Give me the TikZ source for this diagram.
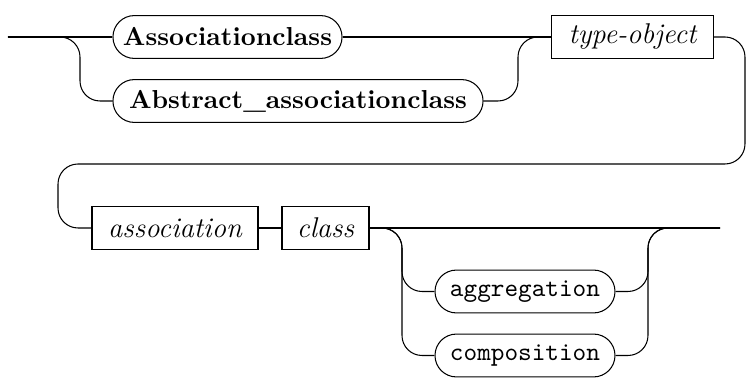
\documentclass[tikz,border=0pt]{standalone}
\tikzset{>=stealth}
\usetikzlibrary{shapes}
\tikzset{
  term/.style={draw,rectangle,rounded corners=8.25pt,minimum height=16.5pt,inner xsep=0pt},
  nonterm/.style={draw,rectangle,minimum height=16.5pt,inner xsep=0pt,font=\fontsize{11}{13}\selectfont\itshape},
  rail/.style={rounded corners=7.7pt}
}

\begin{document}
\begin{tikzpicture}[x=0.385pt,y=-0.385pt]
      \useasboundingbox (0,0) rectangle (747,383);
      \node[term,minimum width=88.2pt,font=\bfseries] (ascl) at (227.5,37) {Associationclass};
      \node[term,minimum width=142.5pt,font=\bfseries] (abscl) at (298,101) {Abstract\_associationclass};
      \node[nonterm,minimum width=62pt] (typeobj) at (632.5,37) {type-object};
      \node[nonterm,minimum width=63.9pt] (assoc) at (175,228) {association};
      \node[nonterm,minimum width=33.5pt] (cls) at (325.5,228) {class};
      \node[term,minimum width=69.3pt,font=\ttfamily] (aggr) at (525,291.5) {aggregation};
      \node[term,minimum width=69.3pt,font=\ttfamily] (comp) at (525,355.5) {composition};
      \coordinate (start) at (8,37);
      \coordinate (s1) at (80,37);
      \coordinate (s2) at (518,37);
      \coordinate (w1) at (745,164);
      \coordinate (w2) at (58,164);
      \coordinate (o1) at (402,228);
      \coordinate (o2) at (648,228);
      \coordinate (end) at (720,228);
      \draw (start) -- (ascl.west);
      \draw[rail] (start) -- (s1) |- (abscl.west);
      \draw (ascl.east) -- (typeobj.west);
      \draw[rail] (abscl.east) -| (s2) -- (typeobj.west);
      \draw[rail] (typeobj.east) -| (w1) -- (w2) |- (assoc.west);
      \draw (assoc.east) -- (cls.west);
      \draw (cls.east) -- (end);
      \draw[rail] (cls.east) -- (o1) |- (aggr.west);
      \draw[rail] (cls.east) -- (o1) |- (comp.west);
      \draw[rail] (aggr.east) -| (o2) -- (end);
      \draw[rail] (comp.east) -| (o2) -- (end);
    \end{tikzpicture}
\end{document}
